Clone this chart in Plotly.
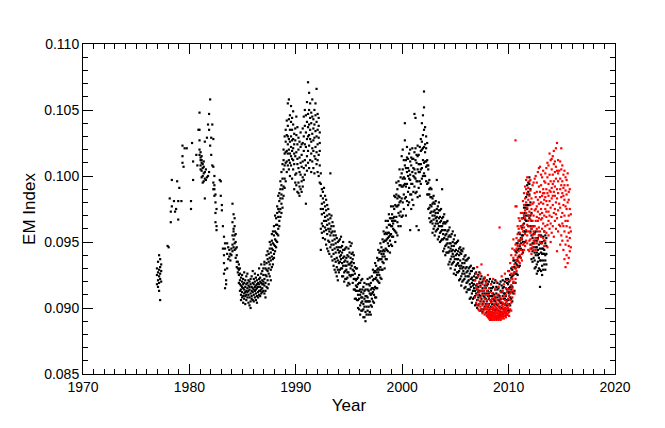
import plotly.graph_objects as go

# EM index values in units of 1e-4, grouped in 0.1-year bins
black_70s_start = 1976.9
black_70s = [
    [925, 918, 930],
    [935, 921, 927, 916], [940, 929, 919, 924, 913], [931, 906, 922, 937, 926], [933, 920, 928], [], [], [], [], [], [947],
    [946], [983], [973, 965], [997, 977], [], [981], [973], [975], [996], [967, 981],
    [991], [], [981], [1015, 1010, 1023], [1007], [1021], [], [1021], [], [],
]

black_80s_start = 1980.0
black_80s = [
    [], [981, 975], [1025], [997, 1011], [], [], [1016], [1008], [1035], [1035, 1048, 1027, 1020, 1016],
    [1018, 1012, 1008, 1014, 1005], [1012, 1004, 1010, 999, 1015], [1006, 1000, 1009, 995], [1002, 996, 1011, 1007], [983, 1026, 1003, 998], [997, 1005], [1029, 999], [1039, 1000], [1047, 1035, 1003], [1058, 1023],
    [1029, 1016], [1039, 1008], [1007, 1028, 995, 990], [1000, 990, 985, 993], [980, 972, 986, 965], [962, 959, 975], [], [], [997], [996, 985],
    [978, 974], [962, 945], [940, 954, 934, 926], [929, 915, 945, 949], [921, 918], [949, 941, 930], [946, 937], [939, 944], [941, 936], [945, 940],
    [979, 965, 955, 948, 943], [971, 960, 952, 946, 958], [968, 955, 949, 962, 944], [956, 945, 938, 950], [940, 935, 946, 931], [935, 930, 927], [929, 925, 933, 919], [921, 918, 926, 913, 930], [917, 910, 923, 914, 906], [920, 912, 916, 908, 925],
    [915, 922, 909, 918, 904], [911, 919, 914, 927, 907], [916, 909, 921, 912, 903], [913, 918, 906, 924, 910], [919, 912, 915, 908, 926], [910, 917, 904, 921, 913], [914, 908, 920, 902, 916], [911, 918, 905, 922, 900], [916, 909, 913, 924, 907], [912, 919, 906, 915, 928],
    [918, 910, 914, 922, 905], [913, 920, 908, 916, 926], [917, 911, 923, 906, 914], [915, 921, 909, 918, 904], [912, 919, 925, 908, 916], [918, 913, 922, 910, 930], [916, 923, 909, 920, 913], [919, 914, 926, 911, 933], [921, 915, 928, 912, 918], [918, 925, 913, 930, 920],
    [922, 911, 933, 917, 935], [919, 930, 913, 925, 908], [934, 924, 916, 929, 940], [921, 937, 928, 943, 915], [930, 918, 941, 926, 935], [945, 933, 924, 950, 938], [929, 942, 936, 948, 921], [951, 939, 931, 945, 956], [937, 949, 944, 958, 933], [955, 941, 962, 948, 938],
    [947, 958, 970, 952, 943], [963, 951, 957, 968, 946], [956, 972, 963, 950, 977], [969, 960, 985, 975, 955], [981, 966, 973, 962, 987], [975, 990, 969, 983, 996], [986, 1003, 979, 993, 972], [998, 983, 1009, 990, 976], [1005, 992, 1020, 985, 1012], [1017, 998, 1030, 1008, 991],
    [1026, 1010, 1035, 996, 1018], [1003, 1031, 1019, 1042, 1011], [1038, 1024, 1055, 1008, 1017, 1030], [1012, 1043, 1028, 1058, 1020, 1005], [1035, 1017, 1000, 1046, 1026, 1010], [1022, 1053, 1041, 1008, 1030, 1015], [1044, 1013, 1027, 998, 1035, 1019], [1005, 1039, 1021, 1049, 1012, 1028], [1032, 1017, 990, 1024, 1009], [1015, 1036, 1001, 1027, 995],
]

black_90s_start = 1990.0
black_90s = [
    [1018, 1031, 1002, 1045, 993], [1009, 1024, 988, 1013, 1037], [995, 1020, 1006, 1029, 987], [1014, 992, 1003, 1026, 985], [1001, 1022, 990, 1010, 1033], [988, 1007, 1016, 996, 1024], [1025, 999, 1011, 1036, 992], [1006, 1030, 1019, 997, 1045], [1038, 1012, 1024, 1001, 1050], [1022, 1046, 1008, 979, 1033],
    [1041, 1015, 1056, 1028, 1004], [1071, 1030, 1047, 1010, 1037, 1019], [1023, 1063, 1039, 1006, 1050, 1031], [1044, 1012, 1028, 1055, 1035], [1017, 1040, 1003, 1026, 1048], [1058, 1032, 1011, 1045, 1021], [1027, 1006, 1036, 1019, 1043], [1039, 1015, 1050, 1002, 1029], [1013, 1055, 1034, 1022, 1046], [1066, 1030, 1009, 1041, 1018],
    [1024, 1047, 1012, 1035, 1003], [1038, 1016, 1029, 1000, 1044], [1008, 1025, 995, 1019, 1033], [985, 1002, 960, 944, 975, 994], [971, 990, 957, 979, 964], [983, 962, 975, 953, 988], [966, 980, 958, 991, 972], [977, 952, 969, 985, 961], [959, 974, 948, 982, 966], [970, 956, 978, 945, 963],
    [951, 967, 960, 975, 943], [964, 941, 958, 971, 950], [1002, 955, 968, 946, 960], [948, 962, 939, 957, 970], [958, 944, 965, 936, 951], [941, 955, 948, 962, 932], [952, 937, 945, 958, 929], [935, 949, 942, 927, 955], [946, 931, 953, 938, 924], [929, 944, 936, 950, 921],
    [942, 934, 951, 927, 946], [943, 935, 952, 929, 939], [937, 946, 930, 954, 940], [942, 934, 947, 930, 924], [932, 938, 944, 924, 950], [935, 927, 944, 920, 939], [936, 928, 945, 922, 932], [929, 938, 922, 946, 932], [935, 927, 940, 923, 917], [927, 933, 939, 919, 945],
    [933, 925, 942, 918, 950], [938, 930, 947, 924, 934], [932, 941, 925, 949, 935], [937, 929, 942, 925, 919], [922, 928, 934, 914, 940], [922, 914, 931, 907, 926], [921, 913, 930, 907, 917], [913, 922, 906, 930, 916], [918, 910, 923, 906, 900], [907, 913, 919, 899, 925],
    [910, 902, 919, 895, 914], [912, 904, 921, 898, 908], [905, 914, 898, 922, 908], [911, 903, 916, 899, 893], [901, 907, 913, 893, 919], [905, 897, 914, 890, 909], [909, 901, 918, 895, 905], [905, 914, 898, 922, 908], [913, 905, 918, 901, 895], [905, 911, 917, 897, 923],
    [910, 902, 919, 895, 914], [915, 907, 924, 901, 911], [912, 921, 905, 929, 915], [922, 914, 927, 910, 904], [916, 922, 928, 908, 934], [923, 915, 932, 908, 927], [929, 921, 938, 915, 925], [927, 936, 920, 944, 930], [937, 929, 942, 925, 919], [931, 937, 943, 923, 949],
    [937, 929, 946, 922, 941], [943, 935, 952, 929, 939], [941, 950, 934, 958, 944], [951, 943, 956, 939, 930], [945, 951, 957, 937, 966], [952, 944, 961, 937, 956], [957, 949, 966, 943, 953], [954, 963, 947, 971, 957], [963, 955, 968, 951, 942], [956, 962, 968, 948, 977],
    [962, 954, 971, 947, 966], [968, 960, 977, 954, 964], [966, 975, 959, 985, 969], [978, 966, 984, 958, 950], [969, 977, 986, 957, 995], [977, 965, 990, 955, 983], [985, 972, 996, 962, 978], [980, 993, 970, 1005, 984], [993, 981, 999, 973, 962], [983, 992, 1002, 969, 1015],
]

black_00s_start = 2000.0
black_00s = [
    [992, 980, 1005, 970, 998, 1020], [999, 986, 1012, 975, 993], [994, 1008, 983, 1027, 998, 1040], [1006, 992, 1012, 984, 970], [994, 1003, 1014, 981, 1022], [1000, 988, 1013, 978, 1006], [1004, 991, 1017, 980, 998], [997, 1011, 986, 1020, 1001, 959], [1008, 994, 1014, 986, 975], [994, 1003, 1013, 982, 1021],
    [1000, 988, 1013, 978, 1006], [1005, 992, 1018, 1047, 999], [998, 1012, 987, 1021, 1002, 1044], [1010, 996, 1016, 988, 962], [996, 1005, 1015, 984, 1023], [1003, 991, 1016, 959, 1009], [1009, 996, 1022, 985, 1003], [1005, 1019, 994, 1028, 1009], [1020, 1006, 1026, 998, 1040], [1012, 1021, 1031, 1000, 1046],
    [1022, 1010, 1035, 1002, 1052, 1064], [1024, 1011, 1037, 1000, 1018], [1007, 1021, 996, 1030, 1011], [1008, 994, 1012, 986, 1025], [986, 995, 1005, 975, 1008], [986, 976, 997, 968, 990], [984, 972, 991, 965, 978], [973, 984, 966, 990, 977], [979, 970, 983, 964, 957], [967, 973, 980, 960, 985],
    [970, 962, 979, 955, 974], [972, 964, 981, 958, 968], [966, 975, 959, 997, 969], [972, 964, 977, 960, 952], [962, 968, 974, 954, 980], [965, 957, 974, 950, 969], [966, 958, 975, 951, 962], [959, 968, 952, 990, 962], [964, 956, 969, 952, 943], [953, 959, 965, 945, 971],
    [955, 947, 964, 940, 959], [956, 948, 965, 942, 952], [949, 958, 942, 966, 952], [954, 946, 959, 942, 933], [943, 949, 955, 935, 961], [945, 937, 954, 930, 949], [947, 939, 956, 933, 943], [941, 950, 934, 958, 944], [947, 939, 952, 935, 926], [937, 943, 949, 929, 955],
    [940, 932, 949, 925, 944], [941, 933, 950, 927, 937], [934, 943, 927, 951, 937], [940, 932, 945, 928, 921], [930, 936, 942, 922, 946], [932, 924, 941, 917, 944], [934, 926, 943, 920, 930], [928, 937, 921, 945, 931], [934, 926, 939, 922, 915], [924, 930, 936, 916, 940],
    [927, 919, 936, 912, 931], [928, 920, 937, 914, 924], [921, 930, 914, 938, 924], [926, 918, 931, 914, 907], [916, 922, 928, 908, 932], [919, 911, 928, 904, 923], [921, 913, 930, 907, 917], [915, 924, 908, 930, 918], [921, 913, 926, 909, 902], [911, 917, 923, 903, 927],
    [914, 906, 923, 900, 918], [916, 908, 925, 902, 912], [910, 919, 903, 927, 913], [917, 909, 922, 905, 898], [907, 913, 919, 899, 924], [911, 903, 920, 897, 915], [913, 905, 922, 899, 909], [908, 917, 901, 923, 911], [915, 907, 920, 903, 896], [905, 911, 917, 897, 921],
    [909, 901, 918, 895, 913], [911, 903, 920, 897, 907], [906, 915, 899, 922, 909], [913, 905, 918, 901, 894], [903, 909, 915, 895, 920], [907, 899, 916, 894, 911], [910, 902, 919, 896, 906], [905, 914, 898, 921, 908], [911, 903, 916, 899, 892], [902, 908, 914, 894, 919],
    [906, 898, 915, 893, 910], [909, 901, 918, 895, 905], [904, 913, 897, 920, 907], [912, 904, 917, 900, 895], [903, 909, 915, 895, 921], [907, 899, 916, 894, 911], [911, 903, 920, 897, 907], [906, 915, 899, 922, 909], [914, 906, 919, 902, 895], [906, 912, 918, 898, 922],
]

black_10s_start = 2010.0
black_10s = [
    [911, 903, 920, 898, 915], [916, 908, 925, 902, 912], [914, 923, 907, 930, 917], [924, 916, 929, 912, 905], [919, 925, 931, 911, 936], [927, 919, 936, 913, 931], [934, 926, 943, 919, 930], [933, 942, 926, 949, 936], [944, 936, 949, 932, 925], [939, 945, 951, 931, 957],
    [947, 939, 956, 932, 951], [953, 945, 962, 938, 949], [952, 961, 944, 968, 955], [963, 955, 968, 950, 942], [958, 964, 970, 950, 976], [967, 958, 978, 950, 972], [976, 966, 984, 958, 970], [975, 986, 966, 993, 978], [988, 978, 995, 970, 962], [978, 986, 994, 968, 999],
    [970, 958, 980, 948, 990, 962], [955, 945, 966, 937, 960, 972], [953, 943, 962, 935, 949], [946, 956, 938, 962, 949], [951, 942, 957, 936, 930], [940, 946, 953, 931, 958], [942, 933, 951, 926, 946], [944, 935, 953, 928, 940], [938, 948, 930, 955, 941], [945, 936, 950, 929, 916],
    [936, 942, 949, 928, 955], [941, 932, 950, 925, 945], [945, 936, 954, 929, 941], [941, 951, 933, 958, 944], [949, 940, 955, 936, 929], [941, 947, 953, 933],
]

red_00s_start = 2006.8
red_00s = [
    [921, 908], [915, 926, 904],
    [910, 931, 902, 918], [906, 914, 924, 899], [912, 903, 920, 898], [908, 916, 901, 926], [905, 913, 933, 899], [910, 902, 918, 896], [904, 913, 898, 921], [907, 900, 915, 895, 923], [902, 910, 896, 918, 899], [899, 906, 894, 913, 901, 920],
    [897, 903, 893, 910, 899, 925, 895], [896, 902, 892, 908, 898, 915, 894], [895, 900, 891, 906, 897, 912, 893], [894, 899, 892, 904, 896, 918, 893], [895, 901, 891, 907, 897, 911, 893], [896, 900, 892, 905, 894, 922, 898], [894, 899, 891, 903, 896, 909, 893], [895, 901, 892, 907, 897, 914, 893], [896, 900, 891, 904, 898, 920, 894], [894, 899, 892, 906, 896, 910, 893],
    [895, 901, 891, 903, 897, 916, 894], [896, 900, 892, 908, 898, 961, 893], [894, 899, 891, 905, 896, 912, 893], [895, 902, 892, 907, 897, 924, 894], [897, 901, 893, 904, 899, 913, 895], [896, 903, 892, 909, 898, 918, 894], [898, 902, 894, 906, 900, 926, 896], [897, 904, 893, 910, 899, 915, 895], [899, 905, 895, 912, 901, 921], [900, 907, 896, 914, 903, 928],
]

red_10s_start = 2010.0
red_10s = [
    [902, 914, 897, 909, 928, 894], [911, 899, 921, 906, 934], [917, 904, 926, 912, 898, 940], [908, 931, 915, 922, 945], [926, 913, 938, 920, 952], [933, 919, 944, 927, 911], [922, 940, 977, 1027, 930, 948], [945, 928, 953, 936, 977], [938, 956, 931, 947, 962], [951, 935, 960, 943, 968],
    [957, 940, 948, 966, 934], [944, 962, 952, 972, 938], [953, 941, 968, 960, 936], [972, 948, 958, 981, 943, 963], [961, 987, 949, 970, 944, 978], [983, 956, 968, 947, 992, 974], [959, 990, 972, 951, 980, 997], [976, 949, 999, 963, 987, 955], [944, 970, 991, 958, 982, 966], [985, 951, 962, 996, 973, 943],
    [957, 978, 945, 989, 967, 997, 952], [971, 948, 983, 960, 941, 975], [946, 966, 993, 955, 979, 962], [980, 958, 944, 970, 995, 951], [962, 987, 949, 974, 956, 998], [953, 975, 966, 1000, 944, 984], [988, 960, 949, 977, 969, 995], [966, 982, 952, 1003, 973, 958], [979, 955, 992, 968, 1006, 961], [958, 984, 971, 950, 1007, 988],
    [993, 967, 954, 980, 1001, 975], [972, 999, 960, 985, 949, 968], [964, 987, 1004, 953, 979, 990], [982, 958, 996, 970, 947, 987], [995, 975, 962, 1002, 951, 984], [969, 990, 1006, 957, 981, 973], [987, 963, 999, 946, 1010, 978], [973, 1008, 985, 955, 994, 966], [1017, 981, 960, 1001, 989, 970], [964, 996, 1012, 976, 950, 988],
    [991, 1005, 969, 983, 957, 1013], [978, 1015, 994, 962, 1001, 985], [1009, 972, 988, 954, 996, 1019], [985, 1003, 966, 992, 1011, 975], [960, 998, 1021, 980, 1007, 971], [1025, 990, 968, 1004, 983, 943], [996, 974, 1012, 958, 987, 1002], [979, 1004, 963], [990, 962, 1011, 976, 948, 998], [1021, 984, 969, 1005, 993, 955],
    [972, 1008, 987, 951, 996, 964], [1001, 978, 944, 991, 962, 985], [958, 982, 1004, 970, 937, 993], [989, 966, 948, 999, 977, 931], [962, 997, 975, 940, 986, 954], [980, 951, 993, 966, 934, 1002], [947, 988, 970, 957, 982, 938], [975, 943, 961, 990, 953], [958, 971, 946],
]

BIN = 0.1
UNIT = 1e-4


def expand(segments):
    xs, ys = [], []
    for start, bins in segments:
        for i, vals in enumerate(bins):
            for v in vals:
                xs.append(round(start + BIN * i + BIN / 2, 3))
                ys.append(v * UNIT)
    return xs, ys


bx, by = expand([
    (black_70s_start, black_70s),
    (black_80s_start, black_80s),
    (black_90s_start, black_90s),
    (black_00s_start, black_00s),
    (black_10s_start, black_10s),
])
rx, ry = expand([
    (red_00s_start, red_00s),
    (red_10s_start, red_10s),
])

fig = go.Figure()
fig.add_trace(go.Scatter(x=bx, y=by, mode="markers",
                         marker=dict(color="black", size=2.2, symbol="square", line=dict(width=0)),
                         hoverinfo="skip", showlegend=False))
fig.add_trace(go.Scatter(x=rx, y=ry, mode="markers",
                         marker=dict(color="#ff0000", size=2.2, symbol="square", line=dict(width=0)),
                         hoverinfo="skip", showlegend=False))

axis_common = dict(
    showline=True, linecolor="black", linewidth=1, mirror="allticks",
    ticks="inside", ticklen=10, tickwidth=1, tickcolor="black",
    showgrid=False, zeroline=False,
)

fig.update_xaxes(
    range=[1970, 2020], tickmode="linear", tick0=1970, dtick=10,
    minor=dict(ticks="inside", dtick=1, ticklen=5, tickcolor="black", tickwidth=1, showgrid=False),
    title=dict(text="Year", standoff=5),
    **axis_common,
)
fig.update_yaxes(
    range=[0.085, 0.110], tickmode="linear", tick0=0.085, dtick=0.005, tickformat=".3f",
    minor=dict(ticks="inside", dtick=0.001, ticklen=5, tickcolor="black", tickwidth=1, showgrid=False),
    title=dict(text="EM Index", standoff=4),
    **axis_common,
)

# the page places the figure 8 px from the top-left corner of the window
fig.update_layout(
    width=657, height=420,
    margin=dict(l=75, r=50, t=36, b=54),
    paper_bgcolor="white", plot_bgcolor="white",
    font=dict(family="Liberation Sans, Arial, Helvetica, sans-serif", size=14, color="black"),
    showlegend=False,
)

fig.write_html("out.html")
